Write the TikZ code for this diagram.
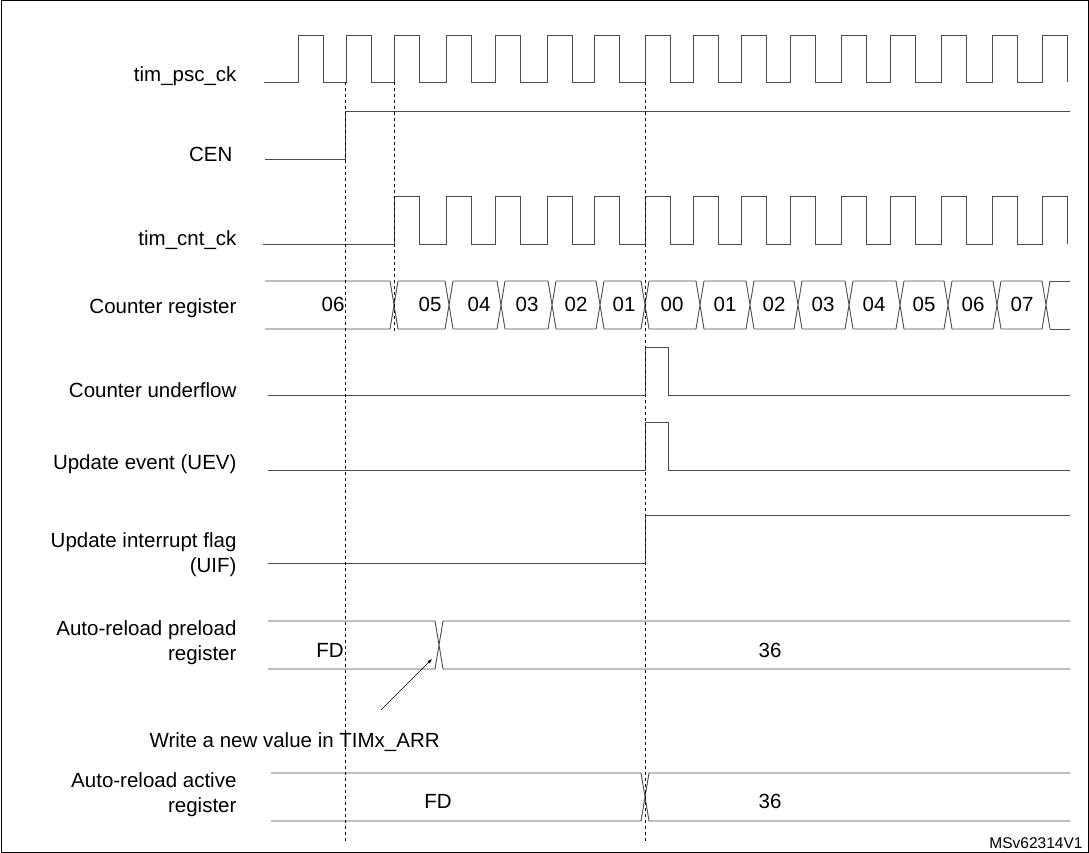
\documentclass[tikz,border=0pt]{standalone}
\usepackage{fontspec}
\setmainfont{Liberation Sans}
\usetikzlibrary{positioning}
\begin{document}
\begin{tikzpicture}[x=1pt,y=-1pt,
    wave/.style={draw=black!70,line width=0.9pt},
    sig/.style={anchor=east,align=right,font=\fontsize{20.5}{25}\selectfont},
    val/.style={font=\fontsize{20.5}{24}\selectfont},
    guide/.style={dashed,line width=0.7pt}]
  \useasboundingbox (0,0) rectangle (1089,853);
  \draw[line width=1pt] (1,1) rectangle (1088,852);
  % signal names
  \node[sig] (lpsc) at (240,76) {tim\_psc\_ck};
  \node[sig] (lcen) at (236,154) {CEN};
  \node[sig] (lcnt) at (240,240) {tim\_cnt\_ck};
  \node[sig] (lreg) at (240,308) {Counter register};
  \node[sig] (lunf) at (240,390) {Counter underflow};
  \node[sig] (luev) at (240,464) {Update event (UEV)};
  \node[sig] (luif) at (240,555) {Update interrupt flag\\(UIF)};
  \node[sig] (lpre) at (240,643) {Auto-reload preload\\register};
  \node[sig] (lact) at (240,795) {Auto-reload active\\register};
  % clocks
  \draw[wave] (264,82) foreach \r in {298,346,394,446,495,547,594,645,693,741,790,841,890,941,992,1042}
    { -- (\r,82) -- (\r,35) -- (\r+25,35) -- (\r+25,82) };
  \draw[wave] (265,159) -- (345,159) -- (345,111) -- (1070,111);
  \draw[wave] (263,244) -- (394,244) foreach \r in {394,446,495,547,594,645,693,741,790,841,890,941,992,1042}
    { -- (\r,244) -- (\r,196) -- (\r+25,196) -- (\r+25,244) };
  % counter register
  \draw[wave] (265,281) -- (390,281) -- (398,329) (265,329) -- (390,329) -- (398,281);
  \foreach \a/\b in {394/449,449/501,501/552,552/600,600/645,645/700,700/750,750/798,798/849,849/900,900/948,948/997,997/1046}
    \draw[wave] (\a+4,281) -- (\b-4,281) -- (\b+4,329) (\a+4,329) -- (\b-4,329) -- (\b+4,281);
  \draw[wave] (1050,281) -- (1070,281) (1050,329) -- (1070,329);
  \foreach \x/\v in {333/06,430/05,479/04,527/03,576/02,624/01,672/00,725/01,774/02,823/03,874/04,924/05,973/06,1022/07}
    \node[val] at (\x,304) {\v};
  % pulses
  \draw[wave] (268,395) -- (645,395) -- (645,347) -- (668,347) -- (668,395) -- (1070,395);
  \draw[wave] (268,470) -- (645,470) -- (645,422) -- (668,422) -- (668,470) -- (1070,470);
  \draw[wave] (268,563) -- (645,563) -- (645,515) -- (1070,515);
  % auto-reload preload
  \draw[wave] (268,621) -- (435,621) -- (443,669) -- (1070,669)
              (268,669) -- (435,669) -- (443,621) -- (1070,621);
  \node[val] (fdpre) at (330,650) {FD};
  \node[val] (v36pre) at (770,650) {36};
  \node[val,anchor=west] (note) at (146,742) {Write a new value in TIMx\_ARR};
  \coordinate (wr) at (432,659);
  \draw[-latex,line width=0.6pt] (381,710) -- (wr);
  % auto-reload active
  \draw[wave] (271,773) -- (641,773) -- (649,821) -- (1070,821)
              (271,821) -- (641,821) -- (649,773) -- (1070,773);
  \node[val] (fdact) at (438,801) {FD};
  \node[val] (v36act) at (770,801) {36};
  % guides
  \draw[guide] (345,82) -- (345,843);
  \draw[guide] (394,82) -- (394,333);
  \draw[guide] (645,82) -- (645,843);
  \node[val,anchor=east,font=\fontsize{15.5}{18}\selectfont] (ref) at (1086,843) {MSv62314V1};
\end{tikzpicture}
\end{document}
